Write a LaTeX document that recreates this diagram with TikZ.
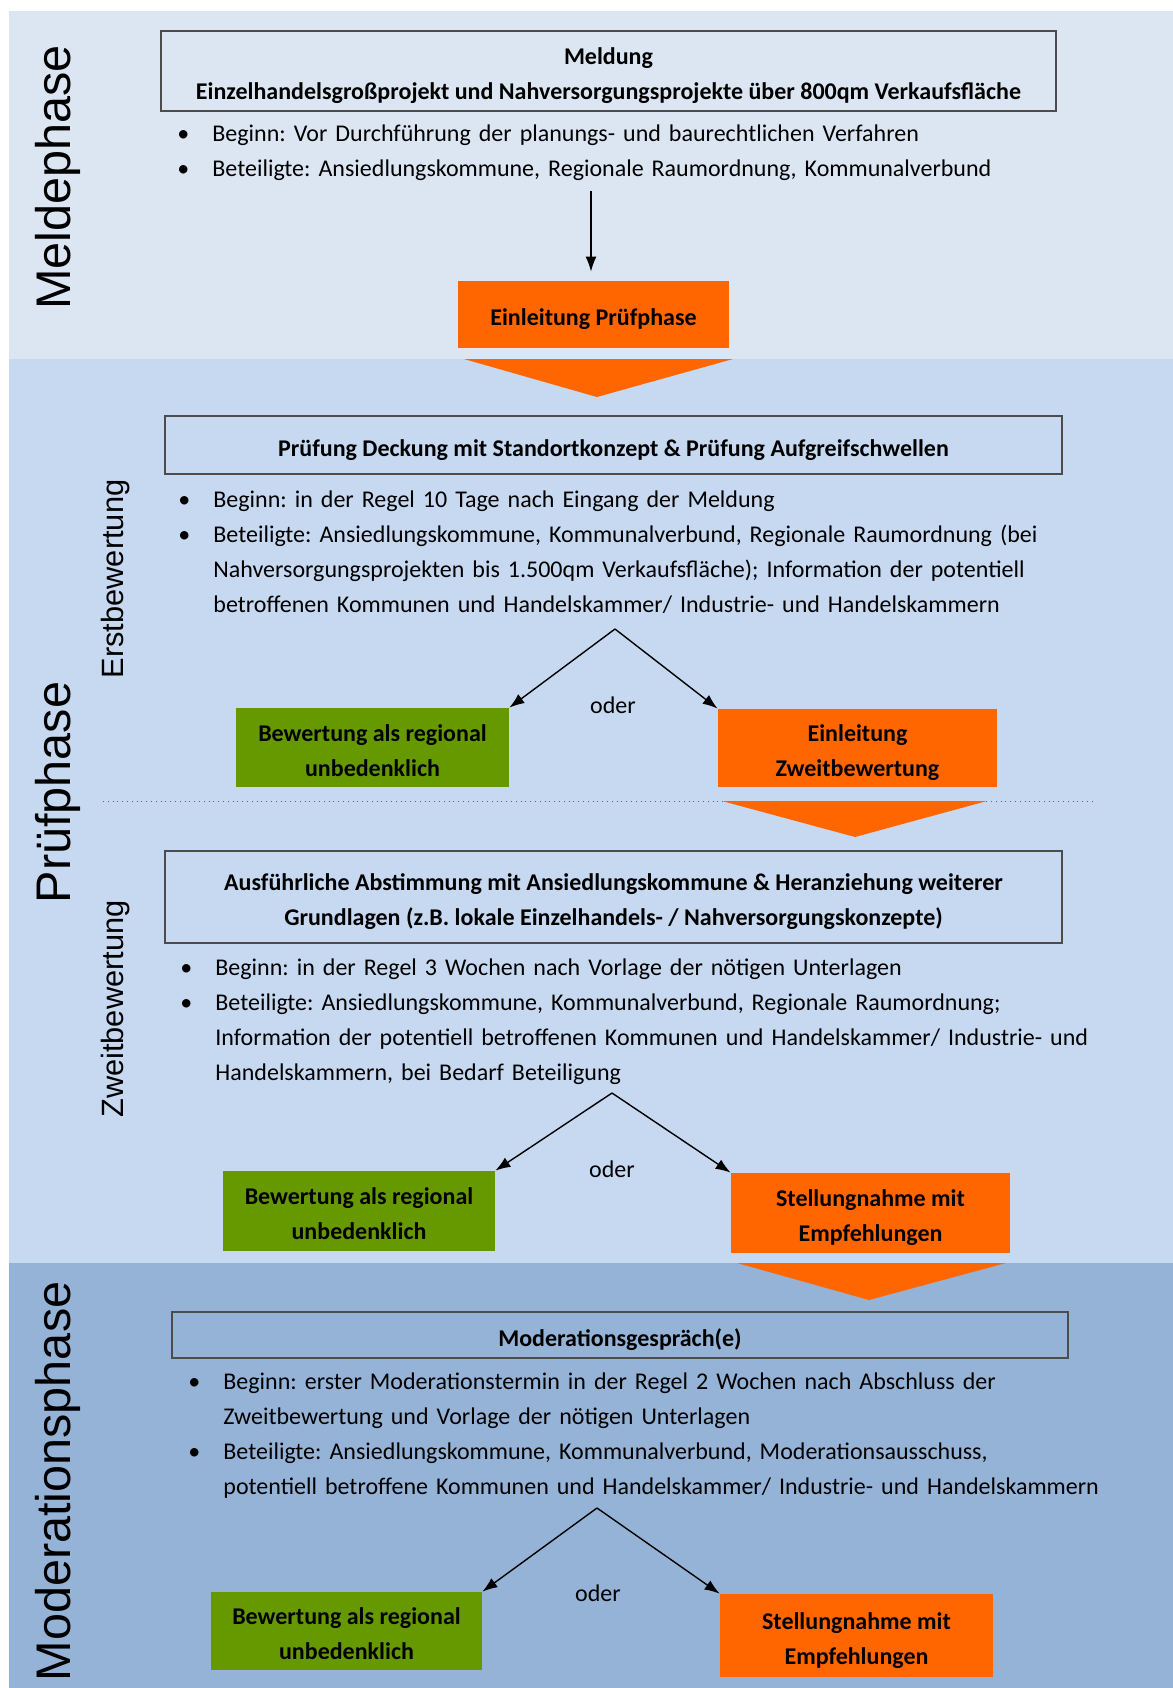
\documentclass[tikz,border=0pt]{standalone}
\usepackage{fontspec}
\setmainfont{Carlito}
\newfontfamily\arialfont{Liberation Sans}
\usepackage{tikz}
\usetikzlibrary{positioning}
\usetikzlibrary{arrows.meta, calc}
\frenchspacing
\definecolor{meldeblau}{RGB}{220,230,242}
\definecolor{pruefblau}{RGB}{198,217,241}
\definecolor{moderblau}{RGB}{149,179,215}
\definecolor{signalorange}{RGB}{255,102,0}
\definecolor{laubgruen}{RGB}{102,153,0}
\newcommand{\punkt}[1]{\hangindent=17.5pt\hangafter=1\noindent\strut\makebox[17.5pt][l]{\textbullet}#1\par}
\tikzstyle{kasten} = [draw=black!70, line width=0.6pt, inner sep=0pt, align=center, font=\bfseries\fontsize{12}{17.5}\selectfont]
\tikzstyle{orangebox} = [fill=signalorange, inner sep=0pt, align=center, font=\bfseries\fontsize{12}{17.5}\selectfont]
\tikzstyle{gruenbox} = [fill=laubgruen, inner sep=0pt, align=center, font=\bfseries\fontsize{12}{17.5}\selectfont]
\tikzstyle{einzeilig} = [text height=14pt, text depth=2.6pt]
\tikzstyle{zweizeilig} = [text height=31.5pt, text depth=2.6pt]
\tikzstyle{liste} = [anchor=north west, inner sep=0pt, text width=470pt, align=left, font=\fontsize{12}{17.5}\selectfont]
\tikzstyle{phase} = [rotate=90, anchor=base, inner sep=0pt, font=\arialfont\fontsize{24.3}{29}\selectfont]
\tikzstyle{stufe} = [rotate=90, anchor=base, inner sep=0pt, font=\arialfont\fontsize{15.4}{18}\selectfont]
\tikzstyle{oder} = [inner sep=0pt, font=\fontsize{12}{17.5}\selectfont]
\tikzstyle{pfeil} = [line width=0.7pt,-{Latex[length=7.5pt,width=5.5pt]}]
\tikzstyle{keil} = [fill=signalorange]

\begin{document}
\begin{tikzpicture}[x=0.5pt,y=-0.5pt]
\useasboundingbox (0,0) rectangle (1173,1688);
\fill[white] (0,0) rectangle (1173,1688);
\fill[meldeblau] (9,11) rectangle (1173,359);
\fill[pruefblau] (9,359) rectangle (1173,1263);
\fill[moderblau] (9,1263) rectangle (1173,1688);
% Phasen links
\node[phase] (melde) at (70,177.5) {Meldephase};
\node[phase] (pruef) at (70,792.5) {Prüfphase};
\node[phase] (moder) at (70,1481.5) {Moderationsphase};
\node[stufe] (erst) at (123,579) {Erstbewertung};
\node[stufe] (zweit) at (123,1009) {Zweitbewertung};
% Meldephase
\draw (608.5,71) node (meldung) [kasten, zweizeilig, minimum width=447.5pt, minimum height=40pt] {Meldung\\Einzelhandelsgroßprojekt und Nahversorgungsprojekte über 800qm Verkaufsfläche};
\node[liste] (mliste) at (177,117) {\punkt{Beginn: Vor Durchführung der planungs- und baurechtlichen Verfahren}\punkt{Beteiligte: Ansiedlungskommune, Regionale Raumordnung, Kommunalverbund}};
\draw (593.5,314.5) node (einl) [orangebox, einzeilig, minimum width=135.5pt, minimum height=33.5pt] {Einleitung Prüfphase};
\coordinate (m0) at (591,191);
\draw[pfeil, shorten >=4.5pt] (m0) -- (m0 |- einl.north);
\fill[keil] (464,359) -- (733,359) -- (597,397) -- cycle;
% Erstbewertung
\draw (613.5,445) node (deckung) [kasten, einzeilig, minimum width=448.5pt, minimum height=29pt] {Prüfung Deckung mit Standortkonzept \& Prüfung Aufgreifschwellen};
\node[liste] (eliste) at (178,483) {\punkt{Beginn: in der Regel 10 Tage nach Eingang der Meldung}\punkt{Beteiligte: Ansiedlungskommune, Kommunalverbund, Regionale Raumordnung (bei\newline Nahversorgungsprojekten bis 1.500qm Verkaufsfläche); Information der potentiell\newline betroffenen Kommunen und Handelskammer/ Industrie- und Handelskammern}};
\coordinate (e0) at (615,629);
\draw (372.5,747.5) node (gruen1) [gruenbox, zweizeilig, minimum width=136.5pt, minimum height=39.5pt] {Bewertung als regional\\unbedenklich};
\draw (857.5,748) node (orange1) [orangebox, zweizeilig, minimum width=139.5pt, minimum height=39pt] {Einleitung\\Zweitbewertung};
\node[oder] (oder1) at (613,705) {oder};
\draw[pfeil] (e0) -- (gruen1.north east);
\draw[pfeil] (e0) -- (orange1.north west);
\draw[black!60, dotted] (103,801) -- (1093,801); %trenn
\fill[keil] (722,801) -- (987,801) -- (855,837) -- cycle;
% Zweitbewertung
\draw (613.5,897) node (abstimm) [kasten, zweizeilig, minimum width=448.5pt, minimum height=46pt] {Ausführliche Abstimmung mit Ansiedlungskommune \& Heranziehung weiterer\\Grundlagen (z.B. lokale Einzelhandels- / Nahversorgungskonzepte)};
\node[liste] (zliste) at (180,951) {\punkt{Beginn: in der Regel 3 Wochen nach Vorlage der nötigen Unterlagen}\punkt{Beteiligte: Ansiedlungskommune, Kommunalverbund, Regionale Raumordnung;\newline Information der potentiell betroffenen Kommunen und Handelskammer/ Industrie- und\newline Handelskammern, bei Bedarf Beteiligung}};
\coordinate (z0) at (612,1093);
\draw (359,1211) node (gruen2) [gruenbox, zweizeilig, minimum width=136pt, minimum height=40pt] {Bewertung als regional\\unbedenklich};
\draw (870.5,1213) node (orange2) [orangebox, zweizeilig, minimum width=139.5pt, minimum height=40pt] {Stellungnahme mit\\Empfehlungen};
\node[oder] (oder2) at (612,1169) {oder};
\draw[pfeil] (z0) -- (gruen2.north east);
\draw[pfeil] (z0) -- (orange2.north west);
\fill[keil] (737,1263) -- (1006,1263) -- (869,1300) -- cycle;
% Moderationsphase
\draw (620,1335) node (gespraech) [kasten, einzeilig, minimum width=448pt, minimum height=23pt] {Moderationsgespräch(e)};
\node[liste] (oliste) at (188,1365) {\punkt{Beginn: erster Moderationstermin in der Regel 2 Wochen nach Abschluss der\newline Zweitbewertung und Vorlage der nötigen Unterlagen}\punkt{Beteiligte: Ansiedlungskommune, Kommunalverbund, Moderationsausschuss,\newline potentiell betroffene Kommunen und Handelskammer/ Industrie- und Handelskammern}};
\coordinate (o0) at (597,1508);
\draw (346.5,1631) node (gruen3) [gruenbox, zweizeilig, minimum width=135.5pt, minimum height=39pt] {Bewertung als regional\\unbedenklich};
\draw (856.5,1635.5) node (orange3) [orangebox, zweizeilig, minimum width=136.5pt, minimum height=41.5pt] {Stellungnahme mit\\Empfehlungen};
\node[oder] (oder3) at (598,1593) {oder};
\draw[pfeil] (o0) -- (gruen3.north east);
\draw[pfeil] (o0) -- (orange3.north west);
\end{tikzpicture}
\end{document}
